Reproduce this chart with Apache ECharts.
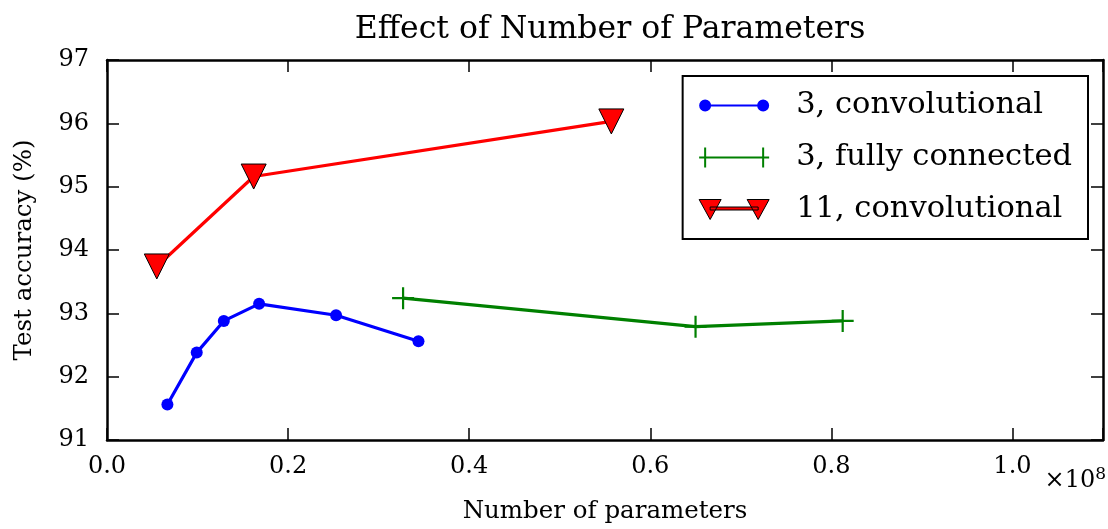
<!DOCTYPE html>
<html>
<head>
<meta charset="utf-8">
<script src="https://cdn.jsdelivr.net/npm/echarts@6/dist/echarts.min.js"></script>
<style>
html,body{margin:0;padding:0;background:#fff;}
#chart{width:1108px;height:529px;}
</style>
</head>
<body>
<div id="chart"></div>
<script>
// ---- data ----
const seriesNames = ['3, convolutional', '3, fully connected', '11, convolutional'];
const blueX = [0.0667, 0.0991, 0.129, 0.168, 0.253, 0.344];
const blueY = [91.56, 92.38, 92.88, 93.15, 92.97, 92.56];
const greenX = [0.327, 0.650, 0.8125];
const greenY = [93.24, 92.79, 92.88];
const redX = [0.055, 0.162, 0.557];
const redY = [93.74, 95.16, 96.03];
const xTicks = [0.0, 0.2, 0.4, 0.6, 0.8, 1.0];
const yTicks = [91, 92, 93, 94, 95, 96, 97];

const FONT = 'DejaVu Serif';
const pairs = (xs, ys) => xs.map((x, i) => [x, ys[i]]);

const plusPath = 'path://M9,0 L11,0 L11,20 L9,20 Z M0,9 L20,9 L20,11 L0,11 Z';
const legBlue = 'path://M0,10 A6,6 0 1,1 12,10 A6,6 0 1,1 0,10 Z M58,10 A6,6 0 1,1 70,10 A6,6 0 1,1 58,10 Z M6,9 L64,9 L64,11 L6,11 Z';
const legGreen = 'path://M0,9 L70,9 L70,11 L0,11 Z M5,0 L7,0 L7,20 L5,20 Z M63,0 L65,0 L65,20 L63,20 Z';
const legRed = 'path://M0,0 L22,0 L11,20 Z M48,0 L70,0 L59,20 Z M11,7.5 L59,7.5 L59,10.5 L11,10.5 Z';

const chart = echarts.init(document.getElementById('chart'), null, {renderer: 'canvas'});

const axisCommon = {
  axisLine: {show: true, onZero: false, lineStyle: {color: '#000', width: 2.5}},
  axisTick: {show: true, inside: true, length: 12, lineStyle: {color: '#000', width: 1.5}},
  splitLine: {show: false}
};

chart.setOption({
  animation: false,
  backgroundColor: '#fff',
  title: {
    text: 'Effect of Number of Parameters',
    left: 605, textAlign: 'center', top: 9,
    textStyle: {fontFamily: FONT, fontSize: 31.5, fontWeight: 'normal', color: '#000'}
  },
  grid: {left: 107, right: 5, top: 60, bottom: 86},
  legend: {
    orient: 'vertical',
    right: 20, top: 76,
    backgroundColor: '#fff',
    borderColor: '#000', borderWidth: 2, borderRadius: 0,
    padding: [14, 16, 14, 16],
    itemGap: 21,
    itemWidth: 70, itemHeight: 20,
    textStyle: {fontFamily: FONT, fontSize: 30.5, color: '#000', lineHeight: 30, padding: [0, 0, 0, 22]},
    data: [
      {name: seriesNames[0], icon: legBlue, itemStyle: {color: '#0000ff', borderWidth: 0}},
      {name: seriesNames[1], icon: legGreen, itemStyle: {color: '#008000', borderWidth: 0}},
      {name: seriesNames[2], icon: legRed, itemStyle: {color: '#ff0000', borderColor: '#000', borderWidth: 1}}
    ]
  },
  xAxis: [
    Object.assign({
      type: 'value', position: 'bottom', min: 0, max: 1.1, interval: 0.2,
      name: 'Number of parameters', nameLocation: 'middle', nameGap: 59,
      nameTextStyle: {fontFamily: FONT, fontSize: 24.5, color: '#000'},
      axisLabel: {
        fontFamily: FONT, fontSize: 24, color: '#000', margin: 15,
        formatter: v => (v > 1.05 ? '' : v.toFixed(1))
      }
    }, axisCommon),
    Object.assign({
      type: 'value', position: 'top', min: 0, max: 1.1, interval: 0.2,
      axisLabel: {show: false}
    }, axisCommon)
  ],
  yAxis: [
    Object.assign({
      type: 'value', position: 'left', min: 91, max: 97, interval: 1,
      name: 'Test accuracy (%)', nameLocation: 'middle', nameGap: 70,
      nameTextStyle: {fontFamily: FONT, fontSize: 24.5, color: '#000'},
      axisLabel: {fontFamily: FONT, fontSize: 24, color: '#000', margin: 18,
        formatter: v => String(v)}
    }, axisCommon),
    Object.assign({
      type: 'value', position: 'right', min: 91, max: 97, interval: 1,
      axisLabel: {show: false}
    }, axisCommon)
  ],
  graphic: [{
    type: 'text',
    right: 2, top: 466,
    style: {
      text: '{a|×10}{b|8}',
      rich: {
        a: {fontFamily: FONT, fontSize: 24, color: '#000'},
        b: {fontFamily: FONT, fontSize: 17, color: '#000', verticalAlign: 'top', padding: [0, 0, 12, 0]}
      }
    }
  }],
  series: [
    {
      name: seriesNames[0], type: 'line', data: pairs(blueX, blueY),
      symbol: 'circle', symbolSize: 12,
      lineStyle: {color: '#0000ff', width: 3.2},
      itemStyle: {color: '#0000ff', borderWidth: 0}
    },
    {
      name: seriesNames[1], type: 'line', data: pairs(greenX, greenY),
      symbol: plusPath, symbolSize: 22,
      lineStyle: {color: '#008000', width: 3.2},
      itemStyle: {color: '#008000', borderWidth: 0}
    },
    {
      name: seriesNames[2], type: 'line', data: pairs(redX, redY),
      symbol: 'triangle', symbolRotate: 180, symbolSize: 25,
      lineStyle: {color: '#ff0000', width: 3.2},
      itemStyle: {color: '#ff0000', borderColor: '#000', borderWidth: 1}
    }
  ]
});
</script>
</body>
</html>
